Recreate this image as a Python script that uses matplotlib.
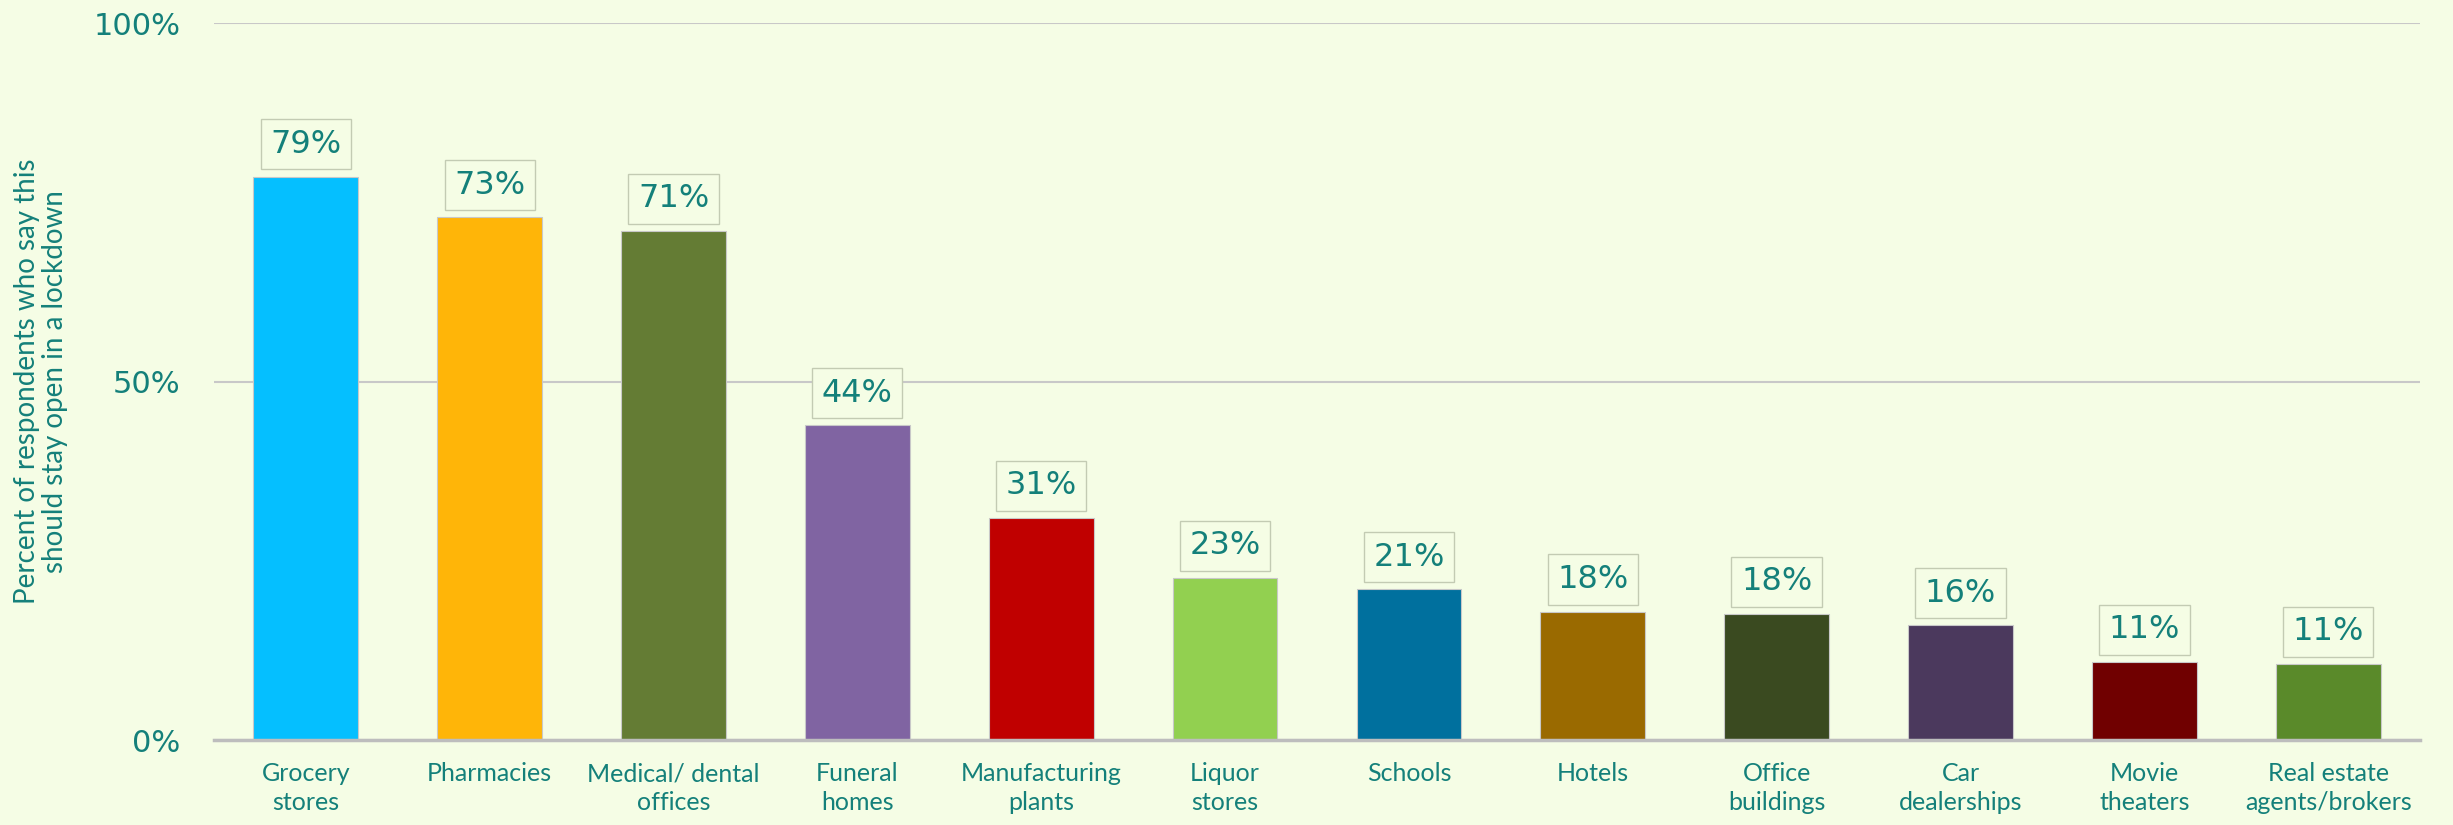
import matplotlib.pyplot as plt

categories = ['Grocery\nstores', 'Pharmacies', 'Medical/ dental\noffices', 'Funeral\nhomes',
              'Manufacturing\nplants', 'Liquor\nstores', 'Schools', 'Hotels', 'Office\nbuildings',
              'Car\ndealerships', 'Movie\ntheaters', 'Real estate\nagents/brokers']
values = [78.6, 72.9, 71.0, 43.9, 31.0, 22.6, 21.0, 17.9, 17.6, 16.0, 10.9, 10.6]
labels = ['79%', '73%', '71%', '44%', '31%', '23%', '21%', '18%', '18%', '16%', '11%', '11%']
colors = ['#05BFFF', '#FFB508', '#647C34', '#8064A2', '#C00000', '#92D050',
          '#00709E', '#9A6A00', '#3A4A20', '#4B395D', '#700000', '#5A8A2A']

bg = '#F5FDE5'
teal = '#14807A'

fig = plt.figure(figsize=(24.53, 8.25), dpi=100, facecolor=bg)
ax = fig.add_axes([0.0872, 0.103, 0.8994, 0.869], facecolor=bg)

x = range(len(categories))
ax.bar(x, values, width=0.57, color=colors, edgecolor='#C8C8C8', linewidth=0.8, zorder=3)

for xi, v, lab in zip(x, values, labels):
    ax.annotate(lab, (xi, v), xytext=(0, 12), textcoords='offset points',
                ha='center', va='bottom', fontsize=23, color=teal,
                bbox=dict(boxstyle='square,pad=0.3', facecolor=bg, edgecolor='#C3CBB3', linewidth=1))

ax.set_xlim(-0.5, len(categories) - 0.5)
ax.set_ylim(0, 100)
ax.set_yticks([0, 50, 100])
ax.set_yticklabels(['0%', '50%', '100%'])
ax.set_xticks(list(x))
ax.set_xticklabels(categories, fontsize=18, color=teal, family='Lato', linespacing=1.3)
ax.tick_params(axis='y', labelsize=22, colors=teal, length=0, pad=24)
ax.tick_params(axis='x', length=0, pad=16)

ax.grid(axis='y', color='#C8C8C8', linewidth=1.5, zorder=0)
for s in ['top', 'right', 'left']:
    ax.spines[s].set_visible(False)
ax.spines['bottom'].set_color('#BDBDBD')
ax.spines['bottom'].set_linewidth(2.5)
ax.spines['bottom'].set_zorder(4)

ax.set_ylabel('Percent of respondents who say this\nshould stay open in a lockdown',
              fontsize=20, color=teal, family='Lato', linespacing=1.1)
ax.yaxis.set_label_coords(-0.066, 0.5)

plt.savefig('out.png', dpi=100, facecolor=bg)
